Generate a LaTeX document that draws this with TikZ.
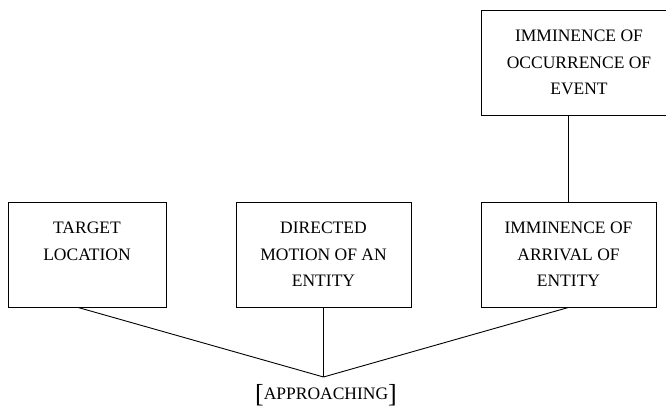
\documentclass[tikz,border=0pt]{standalone}
\usepackage{fontspec}
\setmainfont{Liberation Serif}
\usetikzlibrary{calc}
\tikzset{sense/.style={draw,line width=0.9pt,minimum height=105pt,inner sep=0pt,align=center,font=\fontsize{17.5}{26.5}\selectfont}}
\newcommand{\bigbr}[1]{\raisebox{-3pt}{\fontsize{26}{26}\selectfont#1}}
\begin{document}
\begin{tikzpicture}[x=1pt,y=1pt,line width=0.9pt]
\useasboundingbox (0,0) rectangle (666,409);
\clip (0,0) rectangle (666,409);
\node[sense,minimum width=158pt] (target) at (87,154.5) {TARGET\\LOCATION\\\mbox{}};
\node[sense,minimum width=175pt] (motion) at (323.5,154.5) {DIRECTED\\MOTION OF AN\\ENTITY};
\node[sense,minimum width=175pt] (arrival) at (568.5,154.5) {IMMINENCE OF\\ARRIVAL OF\\ENTITY};
\node[sense,minimum width=196pt] (event) at (579,346.5) {IMMINENCE OF\\OCCURRENCE OF\\EVENT};
\coordinate (meet) at (323.5,32);
\node[anchor=base,font=\fontsize{17.5}{20}\selectfont] (approach) at (326,9) {\bigbr{[}APPROACHING\bigbr{]}};
\draw ($(target.south)+(-9,0)$)--(meet);
\draw (motion.south)--(meet);
\draw (arrival.south)--(meet);
\draw (arrival.north)--(arrival.north|-event.south);
\end{tikzpicture}
\end{document}
